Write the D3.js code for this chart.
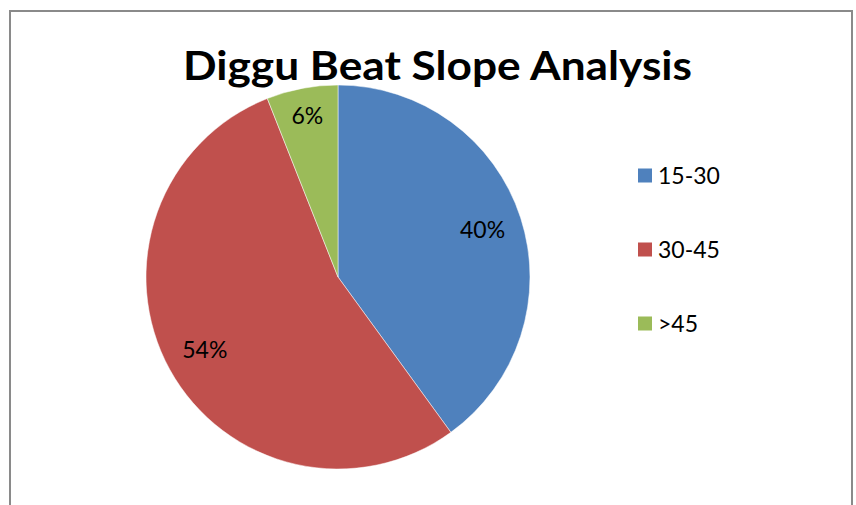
<!DOCTYPE html>
<html>
<head>
<meta charset="utf-8">
<script src="https://cdn.jsdelivr.net/npm/d3@7"></script>
<style>
  html, body { margin: 0; padding: 0; background: #fff; }
  svg { display: block; }
</style>
</head>
<body>
<svg id="chart" width="856" height="505"></svg>
<script>
// Slope classes and their share of the beat area
const categories = ["15-30", "30-45", ">45"];
const values = [40, 54, 6];
const labels = ["40%", "54%", "6%"];
const colors = ["#4F81BD", "#C0504D", "#9BBB59"];
const title = "Diggu Beat Slope Analysis";

const svg = d3.select("#chart");
const font = "Lato, 'Open Sans', sans-serif";

// chart area frame (runs off the bottom edge)
svg.append("rect")
  .attr("x", 10).attr("y", 11)
  .attr("width", 842).attr("height", 600)
  .attr("fill", "#fff")
  .attr("stroke", "#8a8a8a")
  .attr("stroke-width", 2);

svg.append("text")
  .attr("x", 437.5).attr("y", 80)
  .attr("text-anchor", "middle")
  .attr("font-family", font)
  .attr("font-weight", 700)
  .attr("font-size", 40)
  .attr("textLength", 509)
  .attr("lengthAdjust", "spacingAndGlyphs")
  .attr("fill", "#000")
  .text(title);

const cx = 338, cy = 277, r = 192;
const pie = d3.pie().sort(null).value(d => d);
const arcs = pie(values);
const arc = d3.arc().innerRadius(0).outerRadius(r);
// small slices get their label pushed a little further out
const labelRadius = d => (d.endAngle - d.startAngle) < 0.5 ? 164 : 152;

const g = svg.append("g").attr("transform", `translate(${cx},${cy})`);
g.selectAll("path.slice")
  .data(arcs)
  .join("path")
  .attr("class", "slice")
  .attr("d", arc)
  .attr("fill", (d, i) => colors[i])
  .attr("stroke", "#fff")
  .attr("stroke-width", 0.5);

g.selectAll("text.lbl")
  .data(arcs)
  .join("text")
  .attr("class", "lbl")
  .attr("transform", d => {
    const lr = labelRadius(d);
    return `translate(${d3.arc().innerRadius(lr).outerRadius(lr).centroid(d)})`;
  })
  .attr("text-anchor", "middle")
  .attr("dy", "0.35em")
  .attr("font-family", font)
  .attr("font-size", 23)
  .attr("fill", "#000")
  .text((d, i) => labels[i]);

// legend
const legendY = d3.scalePoint().domain(categories).range([176, 324]);
const lg = svg.append("g");
const item = lg.selectAll("g").data(categories).join("g")
  .attr("transform", d => `translate(638,${legendY(d)})`);
item.append("rect")
  .attr("x", 0).attr("y", -7.5)
  .attr("width", 14).attr("height", 14)
  .attr("fill", (d, i) => colors[i]);
item.append("text")
  .attr("x", 20).attr("y", 7.5)
  .attr("font-family", font)
  .attr("font-size", 23)
  .attr("fill", "#000")
  .text(d => d);
</script>
</body>
</html>
